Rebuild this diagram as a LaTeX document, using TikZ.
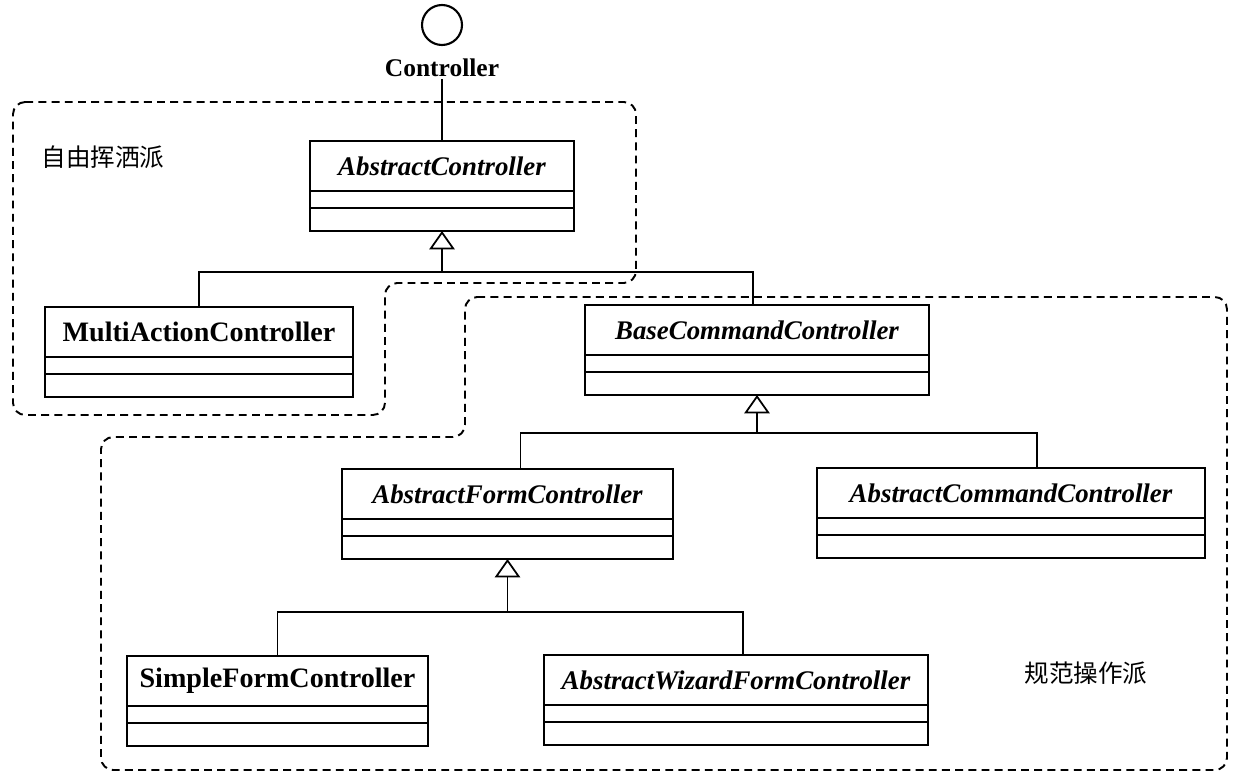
\documentclass[tikz,border=0pt]{standalone}
\usepackage{fontspec}
\setmainfont{Liberation Serif}
\newfontfamily\cjk{Noto Sans CJK SC}
\usetikzlibrary{arrows.meta,positioning,calc,fit}
\tikzset{>={Triangle[open,length=10.5pt,width=14.5pt]}}

\newcommand{\umlclass}[6]{%
    \coordinate (#1-nw) at (#2,#3);
    \coordinate (#1-se) at (#4,#3+90);
    \node[classbox,fit=(#1-nw)(#1-se)] (#1) {};
    \node[#5] (#1-name) at ($(#1.north)+(0,25)$) {#6};
    \draw[classbox] ($(#1.north west)+(0,50)$) -- ($(#1.north east)+(0,50)$);
    \draw[classbox] ($(#1.north west)+(0,67)$) -- ($(#1.north east)+(0,67)$);
}

\begin{document}
\begin{tikzpicture}[x=0.02cm,y=-0.02cm,
    classbox/.style={draw,line width=1.3pt,inner sep=0pt,outer sep=0pt},
    absname/.style={font=\fontsize{15.3}{18}\selectfont\bfseries\itshape},
    concname/.style={font=\fontsize{16}{18}\selectfont\bfseries},
    conn/.style={line width=1pt},
    gen/.style={line width=1pt,->},
    region/.style={dash pattern=on 4.5pt off 3pt,line width=1.1pt,rounded corners=7pt},
    group/.style={font=\cjk\fontsize{14}{16}\selectfont}]
    \useasboundingbox (0,0) rectangle (1240,777);

    \draw[region] (13,102) -- (636,102) -- (636,283) -- (385,283) -- (385,415) -- (13,415) -- cycle;
    \draw[region] (465,297) -- (1227,297) -- (1227,770) -- (101,770) -- (101,437) -- (465,437) -- cycle;
    \node[group] (free) at (103,157) {自由挥洒派};
    \node[group] (norm) at (1086,673) {规范操作派};

    \node[draw,circle,line width=1.2pt,minimum size=0.8cm,inner sep=0pt] (ctrl) at (442,25) {};
    \node[font=\fontsize{14.5}{16}\selectfont\bfseries,inner sep=1pt] (ctrl-label) at (442,68) {Controller};

    \umlclass{ac}{310}{141}{574}{absname}{AbstractController}
    \umlclass{mac}{45}{307}{353}{concname}{MultiActionController}
    \umlclass{bcc}{585}{305}{929}{absname}{BaseCommandController}
    \umlclass{afc}{342}{469}{673}{absname}{AbstractFormController}
    \umlclass{acc}{817}{468}{1205}{absname}{AbstractCommandController}
    \umlclass{sfc}{127}{656}{428}{concname}{SimpleFormController}
    \umlclass{awfc}{544}{655}{928}{absname}{AbstractWizardFormController}

    \draw[conn] (ctrl-label.south) -- (ac.north);

    \coordinate (j1) at (442,272);
    \draw[gen] (j1) -- (ac.south);
    \draw[conn] (mac.north) |- (j1) -| ($(bcc.north)+(-4,0)$);

    \coordinate (j2) at (757,433);
    \draw[gen] (j2) -- (bcc.south);
    \draw[conn] ($(afc.north)+(13,0)$) |- (j2) -| ($(acc.north)+(26,0)$);

    \coordinate (j3) at (507.5,612);
    \draw[gen] (j3) -- (afc.south);
    \draw[conn] (sfc.north) |- (j3) -| ($(awfc.north)+(7,0)$);
\end{tikzpicture}
\end{document}
